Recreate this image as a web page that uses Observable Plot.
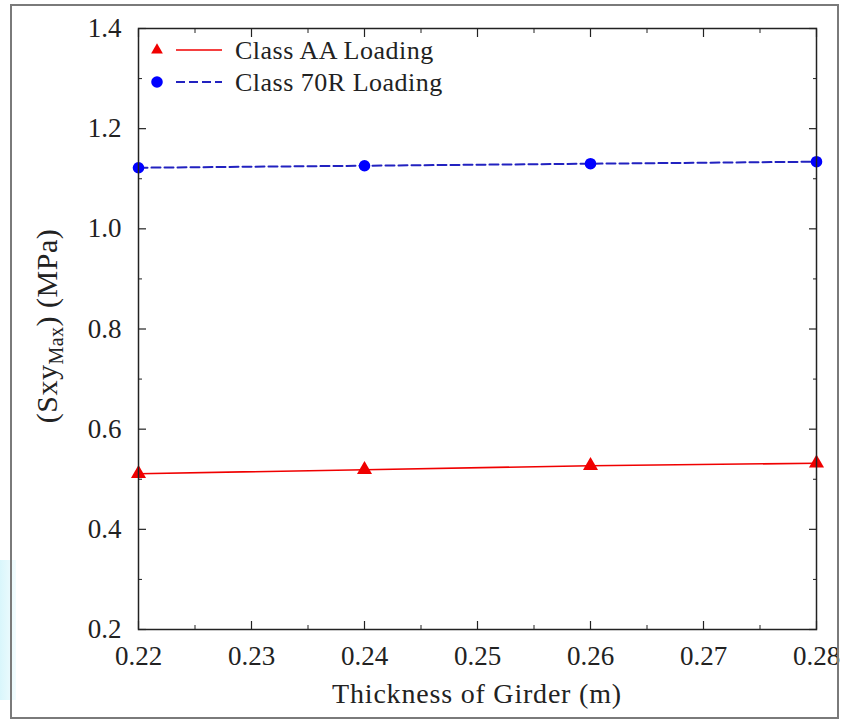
<!DOCTYPE html>
<html>
<head>
<meta charset="utf-8">
<script src="https://cdn.jsdelivr.net/npm/d3@7"></script>
<script src="https://cdn.jsdelivr.net/npm/@observablehq/plot@0.6"></script>
<style>
  html, body { margin: 0; padding: 0; background: #fff; }
  #wrap { position: relative; width: 842px; height: 720px; overflow: hidden; }
  #border { position: absolute; left: 10px; top: 4px; width: 829px; height: 715px; box-sizing: border-box; border: 2px solid #7a7a7a; pointer-events: none; }
  #blob { position: absolute; left: 0; top: 560px; width: 16px; height: 140px; background: linear-gradient(to right, #d9f6fb, #f2fcfe); }
</style>
</head>
<body>
<div id="wrap"><div id="blob"></div><div id="chart"></div><div id="border"></div></div>
<script>
const thickness = [0.22, 0.24, 0.26, 0.28];
const classAA = [0.511, 0.519, 0.527, 0.532];
const class70R = [1.122, 1.126, 1.130, 1.134];
const seriesNames = ["Class AA Loading", "Class 70R Loading"];
const xTicks = [0.22, 0.23, 0.24, 0.25, 0.26, 0.27, 0.28];
const xMinorTicks = [0.225, 0.235, 0.245, 0.255, 0.265, 0.275];
const yTicks = [0.2, 0.4, 0.6, 0.8, 1.0, 1.2, 1.4];
const yMinorTicks = [0.3, 0.5, 0.7, 0.9, 1.1, 1.3];
const xLabel = "Thickness of Girder (m)";
const yLabelParts = ["(Sxy", "Max", ") (MPa)"];

const dataAA = thickness.map((t, i) => ({x: t, y: classAA[i]}));
const data70R = thickness.map((t, i) => ({x: t, y: class70R[i]}));

const FONT = "'Liberation Serif', 'DejaVu Serif', serif";
const INK = "#222";
const red = "#f00000", blue = "#0000ff", blueLine = "#2222c0";

const plot = Plot.plot({
  width: 842,
  height: 720,
  marginLeft: 138,
  marginRight: 26,
  marginTop: 28,
  marginBottom: 91,
  style: {fontFamily: FONT, fontSize: "27px", color: INK, background: "transparent"},
  x: {domain: [0.22, 0.28]},
  y: {domain: [0.2, 1.4]},
  marks: [
    // inward ticks on all four sides
    Plot.axisX({ticks: xTicks, tickSize: -8, text: null, label: null, strokeWidth: 1.2}),
    Plot.axisX({ticks: xMinorTicks, tickSize: -4, text: null, label: null, strokeWidth: 1}),
    Plot.axisX({anchor: "top", ticks: xTicks, tickSize: -8, text: null, label: null, strokeWidth: 1.2}),
    Plot.axisX({anchor: "top", ticks: xMinorTicks, tickSize: -4, text: null, label: null, strokeWidth: 1}),
    Plot.axisY({ticks: yTicks, tickSize: -8, text: null, label: null, strokeWidth: 1.2}),
    Plot.axisY({ticks: yMinorTicks, tickSize: -4, text: null, label: null, strokeWidth: 1}),
    Plot.axisY({anchor: "right", ticks: yTicks, tickSize: -8, text: null, label: null, strokeWidth: 1.2}),
    Plot.axisY({anchor: "right", ticks: yMinorTicks, tickSize: -4, text: null, label: null, strokeWidth: 1}),
    // tick labels
    Plot.axisX({ticks: xTicks, tickSize: 0, tickPadding: 16, tickFormat: d3.format(".2f"), label: null,
      fill: INK, fontSize: 27, fontFamily: FONT}),
    Plot.axisY({ticks: yTicks, tickSize: 0, tickPadding: 17, tickFormat: d3.format(".1f"), label: null,
      fill: INK, fontSize: 27, fontFamily: FONT}),
    // data
    Plot.line(dataAA, {x: "x", y: "y", stroke: red, strokeWidth: 1.6}),
    Plot.dot(dataAA, {x: "x", y: "y", symbol: "triangle", r: 5.6, fill: red, stroke: "none"}),
    Plot.line(data70R, {x: "x", y: "y", stroke: blueLine, strokeWidth: 2, strokeDasharray: "9,4"}),
    Plot.dot(data70R, {x: "x", y: "y", symbol: "circle", r: 5.8, fill: blue, stroke: "none"}),
    Plot.frame({stroke: INK, strokeWidth: 1.5})
  ]
});

document.getElementById("chart").appendChild(plot);

const svg = d3.select(plot);
const fx0 = 138, fx1 = 816, fy0 = 28, fy1 = 629;

// x-axis label
svg.append("text")
  .attr("x", (fx0 + fx1) / 2).attr("y", 703)
  .attr("text-anchor", "middle")
  .attr("font-family", FONT).attr("font-size", 28)
  .attr("letter-spacing", "0.8px")
  .attr("fill", INK)
  .text(xLabel);

// y-axis label with subscript
const yl = svg.append("text")
  .attr("transform", `translate(57, 326) rotate(-90)`)
  .attr("text-anchor", "middle")
  .attr("font-family", FONT)
  .attr("font-size", 30)
  .attr("letter-spacing", "0.5px")
  .attr("fill", INK);
yl.append("tspan").text(yLabelParts[0]);
yl.append("tspan").attr("font-size", 20).attr("dy", 6).text(yLabelParts[1]);
yl.append("tspan").attr("dy", -6).text(yLabelParts[2]);

// legend
const lg = svg.append("g").attr("transform", `translate(${fx0}, ${fy0})`)
  .attr("font-family", FONT).attr("font-size", 26).attr("fill", INK)
  .attr("text-anchor", "start");
const legendItems = [
  {name: seriesNames[0], color: red, line: red, dash: null, sym: d3.symbolTriangle, size: 60, y: 22, w: 1.6},
  {name: seriesNames[1], color: blue, line: blueLine, dash: "9,4", sym: d3.symbolCircle, size: 105, y: 54, w: 2}
];
legendItems.forEach(it => {
  lg.append("path").attr("d", d3.symbol(it.sym, it.size)()).attr("transform", `translate(19, ${it.y})`).attr("fill", it.color);
  lg.append("line").attr("x1", 38).attr("x2", 84).attr("y1", it.y).attr("y2", it.y)
    .attr("stroke", it.line).attr("stroke-width", it.w).attr("stroke-dasharray", it.dash);
  lg.append("text").attr("x", 97).attr("y", it.y).attr("dy", "0.35em")
    .attr("letter-spacing", "0.5px").text(it.name);
});
</script>
</body>
</html>
